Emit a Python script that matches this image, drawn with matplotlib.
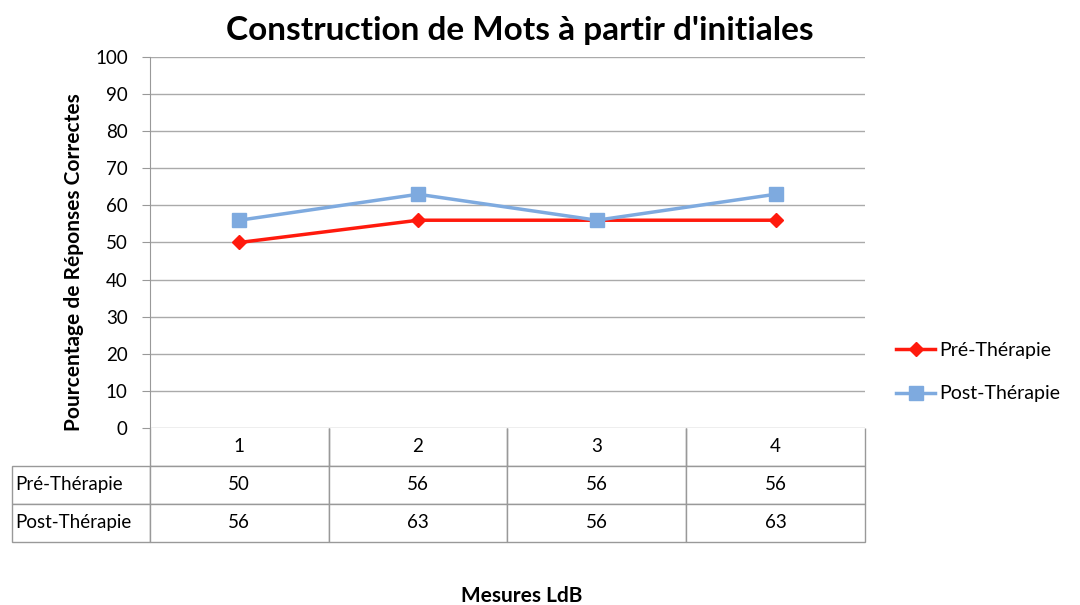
import matplotlib.pyplot as plt

categories = ['1', '2', '3', '4']
series_names = ['Pré-Thérapie', 'Post-Thérapie']
pre = [50, 56, 56, 56]
post = [56, 63, 56, 63]

plt.rcParams['font.family'] = ['Lato', 'DejaVu Sans']

fig = plt.figure(figsize=(10.8, 6.05), dpi=100)
ax = fig.add_axes([0.1389, 0.2926, 0.662, 0.6132])

x = list(range(len(categories)))
ax.plot(x, pre, color='#ff1a0d', lw=2.5, marker='D', ms=7, label=series_names[0], zorder=3)
ax.plot(x, post, color='#7eaadf', lw=2.5, marker='s', ms=10, label=series_names[1], zorder=3)

ax.set_xlim(-0.5, len(categories) - 0.5)
ax.set_ylim(0, 100)
ax.set_yticks(range(0, 101, 10))
ax.set_xticks([])
ax.grid(axis='y', color='#aaaaaa', lw=1)
ax.set_axisbelow(True)
for s in ['top', 'right', 'bottom']:
    ax.spines[s].set_visible(False)
ax.spines['left'].set_color('#999999')
ax.tick_params(axis='y', length=6, color='#999999', labelsize=13.5, pad=10)

ax.set_title("Construction de Mots à partir d'initiales", fontsize=24, fontweight='bold',
             pad=12, x=0.517)
ax.set_ylabel('Pourcentage de Réponses Correctes', fontsize=15, fontweight='bold', labelpad=8)
ax.yaxis.set_label_coords(-0.092, 0.447)

cells = [[series_names[0]] + [str(v) for v in pre],
         [series_names[1]] + [str(v) for v in post]]
tbl = ax.table(cellText=cells, colLabels=[''] + categories,
               colWidths=[138, 179, 179, 179, 179],
               cellLoc='center', bbox=[-0.193, -0.307, 1.193, 0.307])
tbl.auto_set_font_size(False)
tbl.set_fontsize(13.5)
for (r, c), cell in tbl.get_celld().items():
    cell.set_edgecolor('#999999')
    cell.set_linewidth(1)
    if r == 0 and c == 0:
        cell.visible_edges = ''
    elif r == 0:
        cell.visible_edges = 'LRB'
    if c == 0 and r > 0:
        cell.get_text().set_ha('left')
        cell.PAD = 0.025

fig.text(0.483, 0.005, 'Mesures LdB', fontsize=15, fontweight='bold', ha='center')

ax.legend(loc='center left', bbox_to_anchor=(1.019, 0.15), frameon=False,
          fontsize=14, handlelength=2.0, handletextpad=0.2, labelspacing=1.35)

fig.savefig('out.png', dpi=100)
